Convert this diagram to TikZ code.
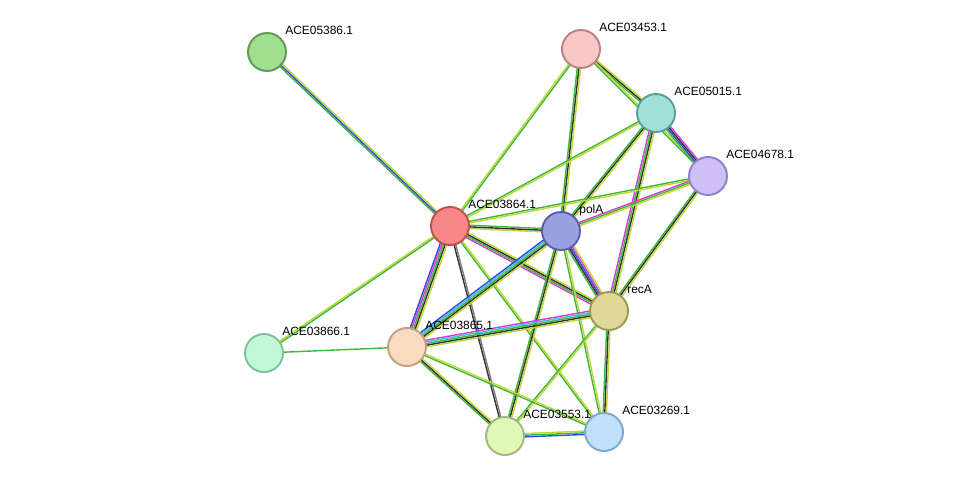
\documentclass[tikz,border=0pt]{standalone}
\usepackage{fontspec}
\setmainfont{Liberation Sans}
\usetikzlibrary{calc}
\pgfdeclarelayer{bg}
\pgfsetlayers{bg,main}

\definecolor{tm}{RGB}{190,215,50}
\definecolor{nb}{RGB}{60,185,60}
\definecolor{cx}{RGB}{50,50,50}
\definecolor{ex}{RGB}{215,60,215}
\definecolor{db}{RGB}{70,190,230}
\definecolor{co}{RGB}{50,70,230}

\tikzset{
  prot/.style={circle, minimum size=0.76cm, inner sep=0pt, line width=1.1pt},
  lbl/.style={anchor=base west, inner sep=0pt, font=\fontsize{6.8}{8}\selectfont},
  edge/.style={line width=0.8pt}
}

% parallel coloured lines between two proteins
\newcommand\lnk[3]{%
  \foreach \c [count=\k] in {#3}{\xdef\nl{\k}}%
  \foreach \c [count=\k] in {#3}{
    \pgfmathsetmacro\off{(\k-(\nl+1)/2)*0.95}
    \draw[\c, edge] ($(#1.center)!\off pt!90:(#2.center)$) -- ($(#2.center)!\off pt!-90:(#1.center)$);
  }}

\begin{document}
\begin{tikzpicture}[x=0.02cm, y=-0.02cm]
  \useasboundingbox (0,0) rectangle (976,481);

  \node[prot, fill={rgb,255:red,160;green,223;blue,144}, draw={rgb,255:red,95;green,155;blue,80}] (a05386) at (267,52) {};
  \node[prot, fill={rgb,255:red,248;green,200;blue,200}, draw={rgb,255:red,190;green,128;blue,128}] (a03453) at (581,49) {};
  \node[prot, fill={rgb,255:red,160;green,224;blue,216}, draw={rgb,255:red,90;green,160;blue,152}] (a05015) at (656,113) {};
  \node[prot, fill={rgb,255:red,208;green,192;blue,248}, draw={rgb,255:red,144;green,128;blue,200}] (a04678) at (708,176) {};
  \node[prot, fill={rgb,255:red,248;green,136;blue,136}, draw={rgb,255:red,192;green,80;blue,80}] (a03864) at (450,226) {};
  \node[prot, fill={rgb,255:red,154;green,160;blue,224}, draw={rgb,255:red,88;green,96;blue,168}] (polA) at (561,231) {};
  \node[prot, fill={rgb,255:red,224;green,216;blue,152}, draw={rgb,255:red,160;green,152;blue,80}] (recA) at (609,311) {};
  \node[prot, fill={rgb,255:red,192;green,248;blue,216}, draw={rgb,255:red,128;green,192;blue,152}] (a03866) at (264,353) {};
  \node[prot, fill={rgb,255:red,248;green,220;blue,192}, draw={rgb,255:red,192;green,160;blue,128}] (a03865) at (407,347) {};
  \node[prot, fill={rgb,255:red,224;green,248;blue,184}, draw={rgb,255:red,160;green,184;blue,128}] (a03553) at (505,436) {};
  \node[prot, fill={rgb,255:red,192;green,224;blue,248}, draw={rgb,255:red,128;green,168;blue,200}] (a03269) at (604,432) {};

  \node[lbl] (t05386) at (285,34) {ACE05386.1};
  \node[lbl] (t03453) at (599,31) {ACE03453.1};
  \node[lbl] (t05015) at (674,95) {ACE05015.1};
  \node[lbl] (t04678) at (726,158) {ACE04678.1};
  \node[lbl] (t03864) at (468,208) {ACE03864.1};
  \node[lbl] (tpolA) at (579,213) {polA};
  \node[lbl] (trecA) at (627,293) {recA};
  \node[lbl] (t03866) at (282,335) {ACE03866.1};
  \node[lbl] (t03865) at (425,329) {ACE03865.1};
  \node[lbl] (t03553) at (523,418) {ACE03553.1};
  \node[lbl] (t03269) at (622,414) {ACE03269.1};

  \begin{pgfonlayer}{bg}
    \lnk{a05386}{a03864}{nb,co,tm}
    \lnk{a03453}{a03864}{tm,nb}
    \lnk{a03453}{polA}{nb,cx,tm}
    \lnk{a03453}{a05015}{nb,cx,tm}
    \lnk{a03453}{a04678}{nb,tm}
    \lnk{a05015}{a04678}{nb,co,cx,ex}
    \lnk{a05015}{a03864}{nb,tm}
    \lnk{a05015}{polA}{nb,cx,tm}
    \lnk{a05015}{recA}{ex,nb,cx,tm}
    \lnk{a04678}{a03864}{nb,tm}
    \lnk{a04678}{polA}{ex,nb,tm}
    \lnk{a04678}{recA}{nb,cx,tm}
    \lnk{a03864}{polA}{tm,cx,nb}
    \lnk{a03864}{recA}{ex,nb,cx,tm}
    \lnk{a03864}{a03866}{tm,nb}
    \lnk{a03864}{a03865}{co,ex,nb,cx,tm}
    \lnk{a03864}{a03553}{cx,gray}
    \lnk{a03864}{a03269}{nb,tm}
    \lnk{polA}{recA}{nb,cx,co,ex,tm}
    \lnk{polA}{a03865}{co,db,nb,cx,tm}
    \lnk{polA}{a03553}{nb,cx,tm}
    \lnk{polA}{a03269}{nb,tm}
    \lnk{recA}{a03865}{ex,db,nb,cx,tm}
    \lnk{recA}{a03553}{nb,tm}
    \lnk{recA}{a03269}{nb,cx,tm}
    \lnk{a03866}{a03865}{nb}
    \lnk{a03865}{a03553}{nb,cx,tm}
    \lnk{a03865}{a03269}{nb,tm}
    \lnk{a03553}{a03269}{co,nb,tm}
  \end{pgfonlayer}
\end{tikzpicture}
\end{document}
